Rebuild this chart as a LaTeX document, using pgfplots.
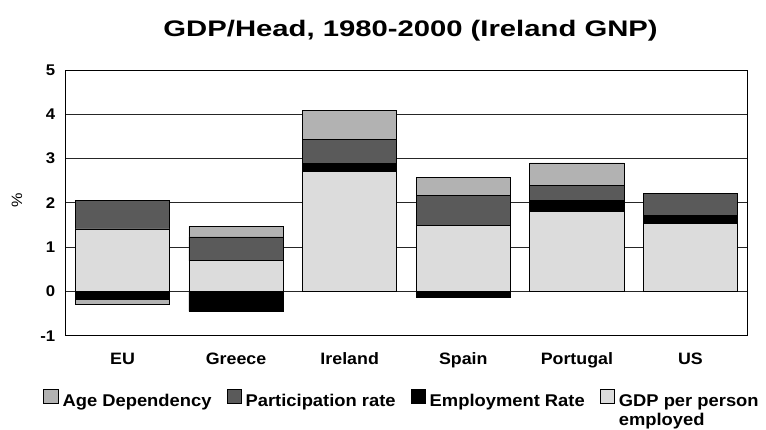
\documentclass[border=0pt]{standalone}
\usepackage{fontspec}
\setmainfont{Liberation Sans}[FakeStretch=1.08]
\newfontfamily\titlefont{Liberation Sans}[FakeStretch=1.3]
\usepackage{pgfplots}
\pgfplotsset{compat=1.18}

\definecolor{agedep}{HTML}{B2B2B2}
\definecolor{partrate}{HTML}{5A5A5A}
\definecolor{emprate}{HTML}{000000}
\definecolor{gdppe}{HTML}{DCDCDC}

\pgfplotsset{
  gdpbase/.style={
    scale only axis,
    width=681.6pt, height=265.7pt,
    xmin=-0.5, xmax=5.5, ymin=-1, ymax=5,
    ybar stacked, bar width=0.83,
  },
  barsty/.style={draw=black, line width=0.8pt,
    legend image code/.code={\draw[##1, line width=0.8pt] (0pt,2.7pt) rectangle (14.3pt,16.7pt);}},
}

\begin{document}
\begin{tikzpicture}
\path[use as bounding box] (-65.7pt,-93.3pt) rectangle (700.3pt,335.7pt);

% positive parts
\begin{axis}[gdpbase,
    axis line style={black, line width=1pt},
    ytick={-1,0,1,2,3,4,5},
    xtick={0,1,2,3,4,5},
    xticklabels={EU,Greece,Ireland,Spain,Portugal,US},
    major tick length=0pt,
    ymajorgrids, grid style={black!85, line width=1pt},
    /pgf/number format/assume math mode=true,
    yticklabel style={font=\fontsize{15.5}{18}\selectfont\bfseries, xshift=-7pt},
    xticklabel style={font=\fontsize{16.5}{19}\selectfont\bfseries, yshift=-13.8pt},
    ylabel={\%},
    ylabel style={at={(axis description cs:-0.0715,0.51)}, anchor=center, font=\fontsize{15}{17}\selectfont},
    title={GDP/Head, 1980-2000 (Ireland GNP)},
    title style={at={(0.506,1)}, anchor=base, yshift=28pt, font=\fontsize{22.5}{27}\titlefont\bfseries},
    reverse legend,
    legend columns=4,
    legend style={draw=none, fill=none, inner sep=0pt,
      at={(axis description cs:-0.0329,-0.2002)}, anchor=north west,
      font=\fontsize{17}{19}\selectfont\bfseries,
      cells={anchor=base west},
      /tikz/every odd column/.append style={column sep=2pt},
      /tikz/every even column/.append style={column sep=13pt}},
  ]
  \addplot[barsty, fill=gdppe] coordinates {(0,1.41) (1,0.69) (2,2.70) (3,1.48) (4,1.80) (5,1.53)};
  \addlegendentry{\begin{tabular}[t]{@{}l@{}}GDP per person\\employed\end{tabular}}
  \addplot[barsty, fill=emprate] coordinates {(0,0) (1,0) (2,0.19) (3,0) (4,0.25) (5,0.19)};
  \addlegendentry{Employment Rate}
  \addplot[barsty, fill=partrate] coordinates {(0,0.65) (1,0.54) (2,0.54) (3,0.68) (4,0.34) (5,0.49)};
  \addlegendentry{Participation rate}
  \addplot[barsty, fill=agedep] coordinates {(0,0) (1,0.24) (2,0.66) (3,0.42) (4,0.51) (5,0)};
  \addlegendentry{Age Dependency}
\end{axis}

% negative parts
\begin{axis}[gdpbase, hide axis]
  \addplot[barsty, fill=emprate] coordinates {(0,-0.19) (1,-0.45) (2,0) (3,-0.13) (4,0) (5,0)};
  \addplot[barsty, fill=agedep] coordinates {(0,-0.11) (1,0) (2,0) (3,0) (4,0) (5,0)};
\end{axis}
\end{tikzpicture}
\end{document}
